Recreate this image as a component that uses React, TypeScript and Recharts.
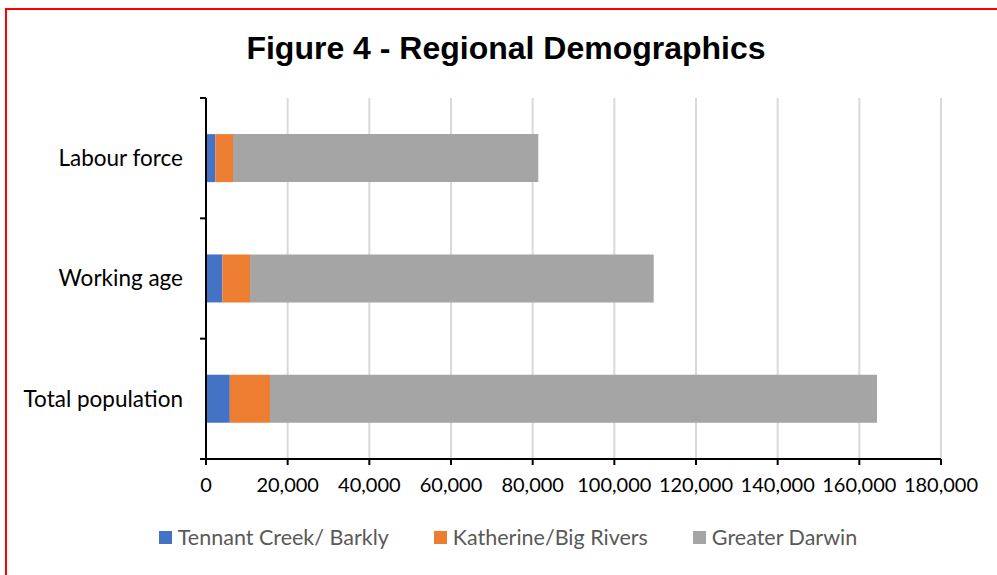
import React from 'react'
import { BarChart, Bar, XAxis, YAxis, CartesianGrid } from 'recharts'

const categories = ['Labour force', 'Working age', 'Total population']
const tennantCreek = [2280, 4000, 5830]
const katherine = [4330, 6780, 9840]
const greaterDarwin = [74770, 98860, 148660]
const xTicks = [0, 20000, 40000, 60000, 80000, 100000, 120000, 140000, 160000, 180000]

const series = [
  { key: 'tennant', name: 'Tennant Creek/ Barkly', color: '#4472C4', values: tennantCreek },
  { key: 'katherine', name: 'Katherine/Big Rivers', color: '#ED7D31', values: katherine },
  { key: 'darwin', name: 'Greater Darwin', color: '#A5A5A5', values: greaterDarwin },
]

const data = categories.map((name, i) => {
  const row: Record<string, string | number> = { name }
  series.forEach((s) => { row[s.key] = s.values[i] })
  return row
})

const W = 997
const H = 575
const M = { top: 98, right: 56, left: 0, bottom: 0 }
const Y_W = 206
const X_H = 116
const band = (H - M.top - M.bottom - X_H) / categories.length
const FONT = 'Lato, "Open Sans", sans-serif'

function CatTick(props: any) {
  const { x, y, payload, index } = props
  return (
    <g>
      <text x={x - 23} y={y} dy="0.35em" textAnchor="end" fontSize={22.5} fill="#000" fontFamily={FONT}>
        {payload.value}
      </text>
      <line x1={x - 6} x2={x} y1={y - band / 2} y2={y - band / 2} stroke="#000" strokeWidth={2} />
      {index === categories.length - 1 && (
        <line x1={x - 6} x2={x} y1={y + band / 2} y2={y + band / 2} stroke="#000" strokeWidth={2} />
      )}
    </g>
  )
}

export default function App() {
  return (
    <div style={{ position: 'fixed', left: 0, top: 0, width: W, height: H, overflow: 'hidden', background: '#fff' }}>
      <div style={{ position: 'absolute', left: 5, top: 8, width: 1020, height: 620, border: '2px solid #ff0000', boxSizing: 'border-box' }} />
      <div style={{
        position: 'absolute', left: 3, width: 1006, top: 29, textAlign: 'center', lineHeight: '38px',
        fontFamily: '"Liberation Sans", Arial, sans-serif', fontWeight: 'bold', fontSize: 32, color: '#000',
      }}>
        Figure 4 - Regional Demographics
      </div>
      <div style={{ position: 'absolute', left: 0, top: 0 }}>
        <BarChart width={W} height={H} data={data} layout="vertical" margin={M} barCategoryGap="30%">
          <CartesianGrid horizontal={false} stroke="#d9d9d9" strokeWidth={2} />
          <XAxis
            type="number" domain={[0, 180000]} ticks={xTicks} interval={0} height={X_H}
            axisLine={{ stroke: '#000', strokeWidth: 2 }} tickLine={{ stroke: '#000', strokeWidth: 2 }}
            tickSize={6} tickMargin={13}
            tick={{ fontSize: 20, fill: '#000', fontFamily: FONT }}
            tickFormatter={(v: number) => v.toLocaleString('en-US')}
          />
          <YAxis
            type="category" dataKey="name" width={Y_W}
            axisLine={{ stroke: '#000', strokeWidth: 2 }} tickLine={false} tickSize={0} tickMargin={0}
            tick={<CatTick />}
          />
          {series.map((s) => (
            <Bar key={s.key} dataKey={s.key} name={s.name} stackId="a" fill={s.color} isAnimationActive={false} />
          ))}
        </BarChart>
      </div>
      <div style={{
        position: 'absolute', left: 5, width: 1006, top: 524, display: 'flex', justifyContent: 'center', gap: 45,
        fontFamily: FONT, fontSize: 21.5, color: '#595959',
      }}>
        {series.map((s) => (
          <div key={s.key} style={{ display: 'flex', alignItems: 'center', gap: 6 }}>
            <span style={{ display: 'inline-block', width: 13, height: 13, background: s.color }} />
            <span>{s.name}</span>
          </div>
        ))}
      </div>
    </div>
  )
}
